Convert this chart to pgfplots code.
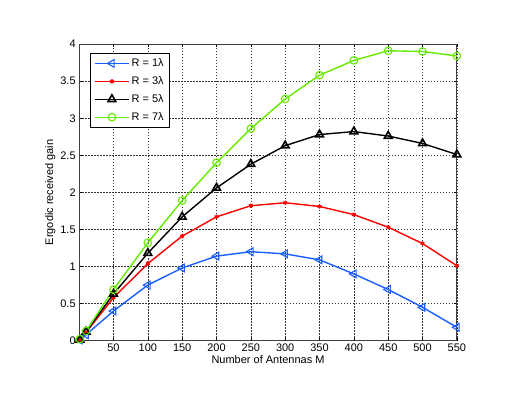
\documentclass[border=0pt]{standalone}
\usepackage{pgfplots}
\pgfplotsset{compat=1.18}
\usepackage{fontspec}
\setmainfont{Liberation Sans}

\definecolor{mblue}{RGB}{25,95,255}
\definecolor{mgreen}{RGB}{100,235,0}

\begin{document}
\begin{tikzpicture}[font=\fontsize{11}{13}\selectfont]
\begin{axis}[
    name=ax,
    at={(0,0)}, anchor=south west,
    width=377bp, height=296bp,
    scale only axis,
    xmin=0, xmax=550,
    ymin=0, ymax=4,
    xtick={50,100,...,550},
    ytick={0,0.5,...,4},
    yticklabels={0,0.5,1,1.5,2,2.5,3,3.5,4},
    /pgf/number format/assume math mode=true,
    tick align=inside,
    major tick length=3bp,
    tick style={black, line width=0.4pt},
    xmajorgrids=true, ymajorgrids=true,
    grid style={black!80, dash pattern=on 1.5bp off 1.5bp, line width=0.5pt},
    axis line style={black!75, line width=0.8pt},
    xlabel={Number of Antennas M},
    ylabel={Ergodic received gain},
    xlabel style={yshift=3bp},
    ylabel style={yshift=-2bp},
    legend style={at={(rel axis cs:0.03,0.97)}, anchor=north west,
        draw=black, fill=white, inner sep=3.5pt,
        row sep=4.5pt, font=\fontsize{11}{13}\selectfont},
    legend cell align=left,
    legend image code/.code={%
        \draw[mark repeat=2, mark phase=2] plot coordinates {(0cm,0cm)(0.6cm,0cm)(1.2cm,0cm)};},
]
\addplot[color=mblue, line width=1.4pt, mark=triangle, mark options={rotate=90, solid, line width=1.1pt}, mark size=4.5pt]
    coordinates {(1,0.01)(10,0.08)(50,0.40)(100,0.75)(150,0.98)(200,1.14)(250,1.20)(300,1.17)(350,1.09)(400,0.90)(450,0.69)(500,0.45)(550,0.18)};
\addlegendentry{R = 1λ}
\addplot[color=red, line width=1.4pt, mark=asterisk, mark options={line width=1.2pt}, mark size=2.2pt]
    coordinates {(1,0.01)(10,0.11)(50,0.58)(100,1.04)(150,1.41)(200,1.67)(250,1.82)(300,1.86)(350,1.81)(400,1.70)(450,1.53)(500,1.31)(550,1.01)};
\addlegendentry{R = 3λ}
\addplot[color=black, line width=1.4pt, mark=triangle, mark options={line width=1.6pt}, mark size=4.5pt]
    coordinates {(1,0.01)(10,0.12)(50,0.63)(100,1.18)(150,1.67)(200,2.06)(250,2.38)(300,2.63)(350,2.78)(400,2.82)(450,2.76)(500,2.66)(550,2.51)};
\addlegendentry{R = 5λ}
\addplot[color=mgreen, line width=1.4pt, mark=o, mark options={line width=1.1pt}, mark size=3.8pt]
    coordinates {(1,0.02)(10,0.13)(50,0.69)(100,1.32)(150,1.89)(200,2.40)(250,2.86)(300,3.26)(350,3.58)(400,3.78)(450,3.91)(500,3.90)(550,3.84)};
\addlegendentry{R = 7λ}
\node[anchor=south west, inner sep=0pt, font=\fontsize{10}{11}\selectfont] at (rel axis cs:-0.055,1.02) {x 10$^{4}$};
\end{axis}
\path[use as bounding box] ([shift={(-79bp,-57bp)}]ax.south west) rectangle ([shift={(61bp,44bp)}]ax.north east);
\end{tikzpicture}
\end{document}
